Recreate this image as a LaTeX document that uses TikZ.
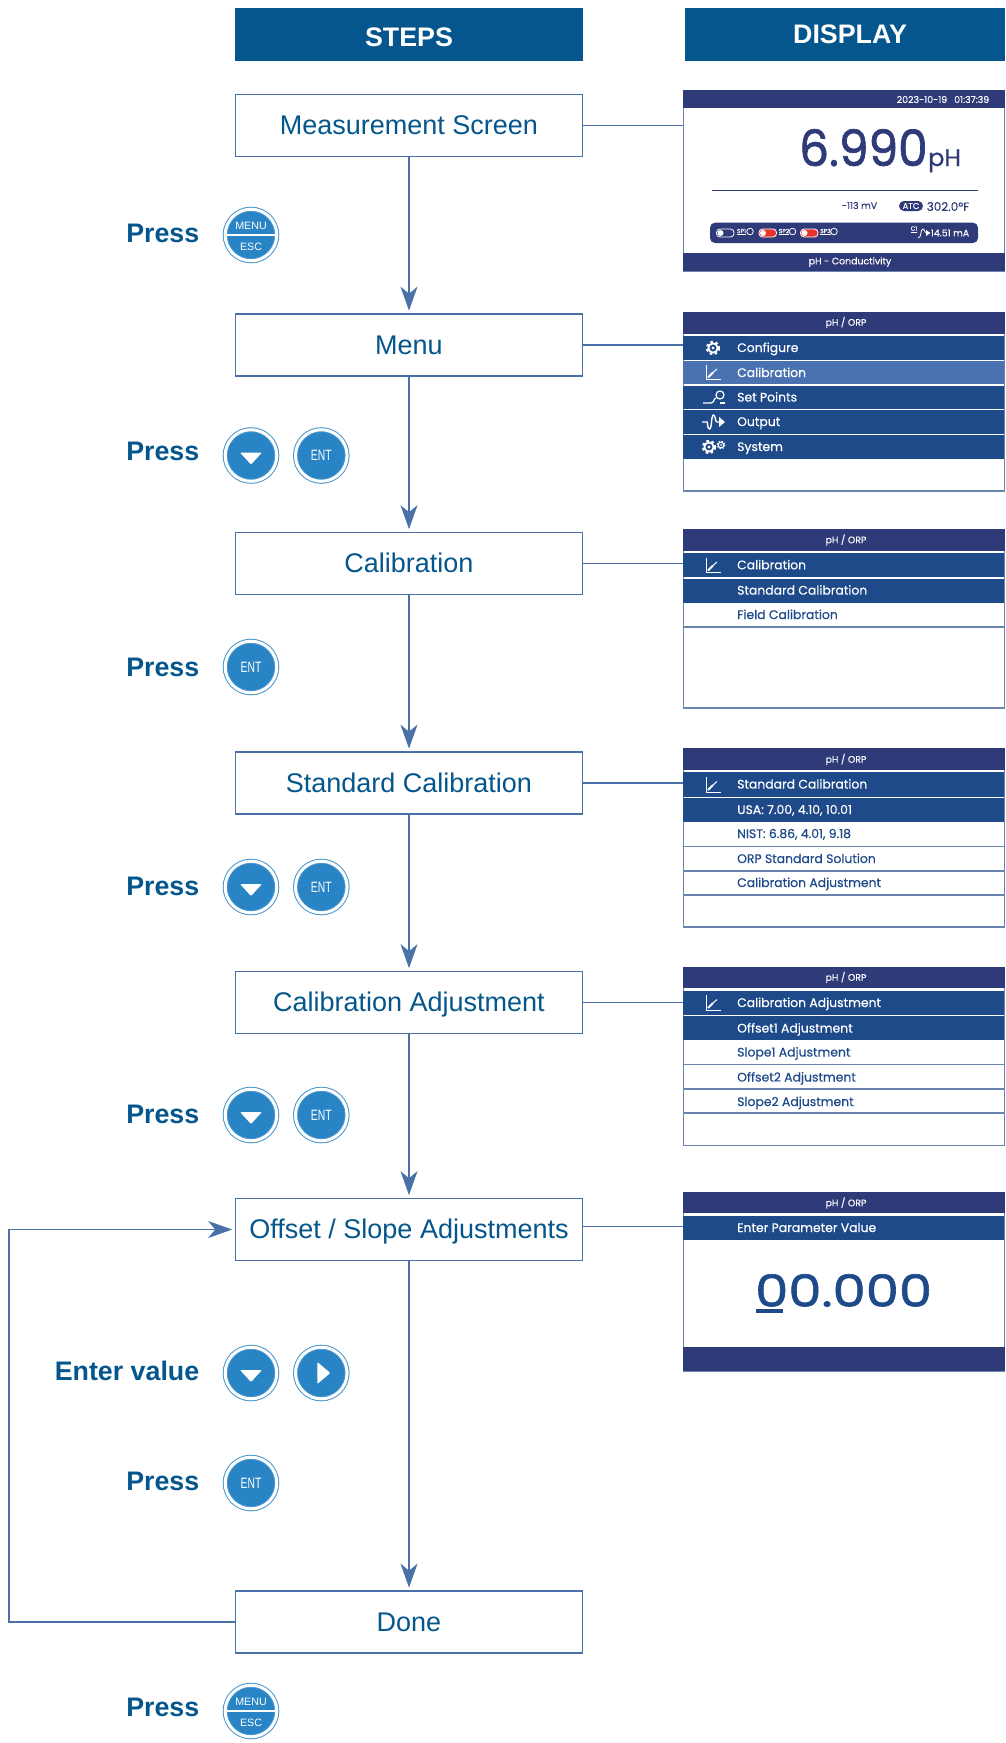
\documentclass[tikz,border=0pt]{standalone}
\usepackage{fontspec}
\setmainfont{Liberation Sans}
\newfontfamily\dispfont[FakeBold=0.5]{Poppins}
\newfontfamily\plainfont[FakeBold=0.2]{Poppins}
\newfontfamily\readfont[FakeStretch=0.94,FakeBold=1.4]{Poppins}
\newfontfamily\entryfont[FakeStretch=1.2,FakeBold=1.4]{Poppins}
\newfontfamily\entfont[FakeStretch=0.69]{Liberation Sans}
\usepackage{tikz}
\usetikzlibrary{arrows.meta, positioning}
\definecolor{stepblue}{HTML}{04568C}
\definecolor{linkblue}{HTML}{4A72A8}
\definecolor{framegrey}{HTML}{6A84B0}
\definecolor{titlenavy}{HTML}{2F3A78}
\definecolor{rownavy}{HTML}{1F4A8A}
\definecolor{rowpale}{HTML}{4A72B0}
\definecolor{btnblue}{HTML}{2884C4}
\definecolor{toggled}{HTML}{E8322C}
\tikzset{
    headbox/.style={fill=stepblue, text=white, font=\fontsize{26.8}{30}\selectfont\bfseries, minimum height=53pt, inner sep=0pt},
    stepbox/.style={draw=linkblue, line width=1.7pt, fill=white, text=stepblue, font=\fontsize{27}{31}\selectfont, minimum width=347pt, minimum height=62pt, inner sep=0pt, text height=18.5pt, text depth=0pt},
    link/.style={draw=linkblue, line width=1.5pt},
    flowarrow/.style={link, -{Stealth[length=24pt,width=17pt,inset=7pt]}, shorten >=2.5pt},
    presstext/.style={anchor=base east, text=stepblue, font=\fontsize{26.8}{30}\selectfont\bfseries, inner sep=0pt},
    btn/.style={circle, draw=btnblue!85!white, line width=1pt, double=white, double distance=3pt, fill=btnblue, minimum size=51.6pt, inner sep=0pt, text=white, font=\entfont\fontsize{15}{15}\selectfont},
    btnsmall/.style={text=white, font=\fontsize{10.7}{12}\selectfont, inner sep=0pt},
    dispframe/.style={draw=framegrey, line width=1.5pt, fill=white, anchor=north west, minimum width=321pt, inner sep=0pt},
    bartext/.style={text=white, font=\plainfont\fontsize{9.4}{11}\selectfont, inner sep=0pt},
    rowwhite/.style={anchor=west, text=white, font=\dispfont\fontsize{12.4}{14}\selectfont, inner sep=0pt, text height=10pt, text depth=2pt},
    rowblue/.style={anchor=west, text=rownavy, font=\dispfont\fontsize{12.4}{14}\selectfont, inner sep=0pt, text height=10pt, text depth=2pt},
    readout/.style={text=titlenavy, font=\plainfont\fontsize{9.4}{11}\selectfont, inner sep=0pt},
    gearicon/.pic={
        \draw[white, line width=1.8pt] (0,0) circle (4.6);
        \draw[white, line width=2.2pt, dash pattern=on 2.5pt off 2.6pt] (0,0) circle (6);
        \fill[white] (0,0) circle (1.7);
    },
    smallgearicon/.pic={
        \draw[white, line width=1pt] (0,0) circle (2.8);
        \draw[white, line width=1.2pt, dash pattern=on 1.4pt off 1.6pt] (0,0) circle (3.8);
        \fill[white] (0,0) circle (1);
    },
    charticon/.pic={
        \draw[white, line width=1pt] (-7,-8) -- (-7,7) -- (8,7);
        \draw[white, line width=2pt] (-5,5) -- (0,0);
        \draw[white, line width=1pt] (0,0) -- (4,-3.5);
    },
    pointicon/.pic={
        \draw[white, line width=1.2pt] (-11,6) -- (-3,6) .. controls (0,6) and (0,1) .. (2,1);
        \draw[white, line width=1.2pt] (6,-2) circle (4);
        \draw[white, line width=1.2pt] (6,6) -- (11,6);
    },
    outputicon/.pic={
        \draw[white, line width=1.4pt] (-12,0) -- (-7,0) .. controls (-6,0) and (-7,7) .. (-4.5,7) .. controls (-2,7) and (-3,-7) .. (-0.5,-7) .. controls (1.5,-7) and (1,0) .. (3,0) -- (6,0);
        \fill[white] (5,-5) -- (11,0) -- (5,5) -- cycle;
    },
    downicon/.pic={\fill[white, rounded corners=1pt] (-11,-3) -- (11,-3) -- (0,9) -- cycle;},
    righticon/.pic={\fill[white, rounded corners=1pt] (-4,-11) -- (-4,11) -- (9,0) -- cycle;}
}
\begin{document}
\begin{tikzpicture}[x=1pt, y=-1pt]
    \useasboundingbox (0,0) rectangle (1005,1743);
    % Headers
    \node[headbox, minimum width=348pt, text height=23.2pt, text depth=0pt] (steps) at (409,34.5) {STEPS};
    \node[headbox, minimum width=320pt] (display) at (845,34.5) {\hspace*{10pt}DISPLAY};
    % Steps
    \node[stepbox] (measure) at (409,125.5) {Measurement Screen};
    \node[stepbox] (menu) at (409,345) {Menu};
    \node[stepbox] (calib) at (409,563.5) {Calibration};
    \node[stepbox] (standard) at (409,783) {Standard Calibration};
    \node[stepbox] (adjust) at (409,1002.5) {Calibration Adjustment};
    \node[stepbox] (offset) at (409,1229.5) {Offset / Slope Adjustments};
    \node[stepbox] (done) at (409,1622) {Done};
    % Arrows
    \draw[flowarrow] (measure) -- (menu);
    \draw[flowarrow] (menu) -- (calib);
    \draw[flowarrow] (calib) -- (standard);
    \draw[flowarrow] (standard) -- (adjust);
    \draw[flowarrow] (adjust) -- (offset);
    \draw[flowarrow] (offset) -- (done);
    \coordinate (backcorner) at (9,1622);
    \draw[flowarrow] (done) -- (backcorner) |- (offset);
    % Press labels
    \node[presstext] (pressa) at (199.5,242) {Press};
    \node[presstext] (pressb) at (199.5,460.5) {Press};
    \node[presstext] (pressc) at (199.5,676) {Press};
    \node[presstext] (pressd) at (199.5,895) {Press};
    \node[presstext] (presse) at (199.5,1123) {Press};
    \node[presstext] (enterval) at (199.5,1380) {Enter value};
    \node[presstext] (pressf) at (199.5,1490.5) {Press};
    \node[presstext] (pressg) at (199.5,1716) {Press};
    % Buttons
    \node[btn] (btnmenu) at (251,235) {};
    \draw[white, line width=2pt] (227,235) -- (275,235);
    \node[btnsmall] (menutext) at (251,226) {MENU};
    \node[btnsmall] (esctext) at (251,246.7) {ESC};
    \node[btn] (btndowna) at (251,455.5) {};
    \pic at (251,455.5) {downicon};
    \node[btn] (btnenta) at (321.3,455.5) {ENT};
    \node[btn] (btnentb) at (251,667) {ENT};
    \node[btn] (btndownb) at (251,887) {};
    \pic at (251,887) {downicon};
    \node[btn] (btnentc) at (321.3,887) {ENT};
    \node[btn] (btndownc) at (251,1115) {};
    \pic at (251,1115) {downicon};
    \node[btn] (btnentd) at (321.3,1115) {ENT};
    \node[btn] (btndownd) at (251,1373) {};
    \pic at (251,1373) {downicon};
    \node[btn] (btnright) at (321.3,1373) {};
    \pic at (321.3,1373) {righticon};
    \node[btn] (btnente) at (251,1483) {ENT};
    \node[btn] (btnmenub) at (251,1711) {};
    \draw[white, line width=2pt] (227,1711) -- (275,1711);
    \node[btnsmall] (menutextb) at (251,1702) {MENU};
    \node[btnsmall] (esctextb) at (251,1722.7) {ESC};
    % Display 1: measurement
    \node[dispframe, minimum height=180pt] (dispa) at (682.5,90.5) {};
    \draw[link] (measure.east) -- (measure.east -| dispa.west);
    \fill[titlenavy] (682.5,90) rectangle (1004.5,108);
    \fill[titlenavy] (682.5,252.5) rectangle (1004.5,271);
    \node[bartext] (clock) at (943,99.5) {2023-10-19\hspace{7pt}01:37:39};
    \node[bartext] (footer) at (850,262) {pH - Conductivity};
    \node[anchor=base west, inner sep=0pt, text=titlenavy, font=\readfont\fontsize{50}{54}\selectfont] (reading) at (799,166) {6.990};
    \node[anchor=base west, inner sep=0pt, text=titlenavy, font=\dispfont\fontsize{24}{28}\selectfont] (unit) at (928,166) {pH};
    \draw[titlenavy, line width=1.3pt] (712,190.5) -- (978,190.5);
    \node[readout] (millivolt) at (859.5,205.5) {-113 mV};
    \fill[titlenavy, rounded corners=5pt] (899,201) rectangle (923,211);
    \node[bartext, font=\plainfont\fontsize{8.4}{10}\selectfont] (atc) at (911,206) {ATC};
    \node[readout, font=\plainfont\fontsize{12}{14}\selectfont] (temper) at (948,206.5) {302.0°F};
    \fill[titlenavy, rounded corners=5pt] (710,222.7) rectangle (978,243);
    \draw[white, line width=.8pt, rounded corners=3.5pt] (716.5,229) rectangle (734,237);
    \fill[white] (720.5,233) circle (3);
    \node[bartext, font=\plainfont\fontsize{6}{7}\selectfont] (spa) at (741.5,232) {\underline{SP1}};
    \draw[white, line width=.8pt] (750,231.5) circle (3.3);
    \draw[white, fill=toggled, line width=.8pt, rounded corners=3.5pt] (759,229) rectangle (776.5,237);
    \fill[white] (763,233) circle (3);
    \node[bartext, font=\plainfont\fontsize{6}{7}\selectfont] (spb) at (784,232) {\underline{SP2}};
    \draw[white, line width=.8pt] (792.5,231.5) circle (3.3);
    \draw[white, fill=toggled, line width=.8pt, rounded corners=3.5pt] (800.5,229) rectangle (818,237);
    \fill[white] (804.5,233) circle (3);
    \node[bartext, font=\plainfont\fontsize{6}{7}\selectfont] (spc) at (825.5,232) {\underline{SP3}};
    \draw[white, line width=.8pt] (834,231.5) circle (3.3);
    \node[bartext, font=\plainfont\fontsize{6}{7}\selectfont] (chan) at (914,229.5) {\underline{C1}};
    \draw[white, line width=.8pt] (918,238) .. controls (922,238) and (920,229) .. (923,229) .. controls (925,229) and (924,233) .. (927,233);
    \fill[white] (926,230) -- (930.5,233) -- (926,236) -- cycle;
    \node[bartext] (current) at (950,233) {14.51 mA};
    % Display 2: menu
    \node[dispframe, minimum height=178pt] (dispb) at (682.5,312) {};
    \draw[link] (menu.east) -- (menu.east -| dispb.west);
    \fill[titlenavy] (682.5,312) rectangle (1004.5,333.5);
    \node[bartext] (titleb) at (846,322.5) {pH / ORP};
    \fill[rownavy] (682.5,336) rectangle (1004,360);
    \fill[rowpale] (682.5,361) rectangle (1004,384);
    \fill[rownavy] (682.5,385.5) rectangle (1004,409);
    \fill[rownavy] (682.5,410) rectangle (1004,434);
    \fill[rownavy] (682.5,435) rectangle (1004,459);
    \node[rowwhite] (configure) at (737,348) {Configure};
    \node[rowwhite] (calrow) at (737,373) {Calibration};
    \node[rowwhite] (setpoints) at (737,397.5) {Set Points};
    \node[rowwhite] (output) at (737,422) {Output};
    \node[rowwhite] (system) at (737,447) {System};
    \pic at (713,348) {gearicon};
    \pic at (713,372.5) {charticon};
    \pic at (714,397) {pointicon};
    \pic at (714,422) {outputicon};
    \pic at (709,447) {gearicon};
    \pic at (721,445) {smallgearicon};
    % Display 3: calibration
    \node[dispframe, minimum height=178pt] (dispc) at (682.5,529) {};
    \draw[link] (calib.east) -- (calib.east -| dispc.west);
    \fill[titlenavy] (682.5,529) rectangle (1004.5,550.5);
    \node[bartext] (titlec) at (846,540) {pH / ORP};
    \fill[rownavy] (682.5,553.3) rectangle (1004,577.3);
    \fill[rownavy] (682.5,578.8) rectangle (1004,602.5);
    \draw[framegrey, line width=1.2pt] (682.5,627) -- (1004,627);
    \node[rowwhite] (calrowc) at (737,565.3) {Calibration};
    \node[rowwhite] (stdrowc) at (737,590.6) {Standard Calibration};
    \node[rowblue] (fieldrow) at (737,615) {Field Calibration};
    \pic at (713,565.5) {charticon};
    % Display 4: standard calibration
    \node[dispframe, minimum height=178pt] (dispd) at (682.5,748) {};
    \draw[link] (standard.east) -- (standard.east -| dispd.west);
    \fill[titlenavy] (682.5,748) rectangle (1004.5,769.5);
    \node[bartext] (titled) at (846,759.5) {pH / ORP};
    \fill[rownavy] (682.5,772.3) rectangle (1004,796.7);
    \fill[rownavy] (682.5,798) rectangle (1004,822);
    \draw[framegrey, line width=1.2pt] (682.5,846.5) -- (1004,846.5);
    \draw[framegrey, line width=1.2pt] (682.5,871) -- (1004,871);
    \draw[framegrey, line width=1.2pt] (682.5,895) -- (1004,895);
    \node[rowwhite] (stdrowd) at (737,784.5) {Standard Calibration};
    \node[rowwhite] (usarow) at (737,810) {USA: 7.00, 4.10, 10.01};
    \node[rowblue] (nistrow) at (737,834) {NIST: 6.86, 4.01, 9.18};
    \node[rowblue] (orprow) at (737,859) {ORP Standard Solution};
    \node[rowblue] (adjrow) at (737,883) {Calibration Adjustment};
    \pic at (713,785) {charticon};
    % Display 5: calibration adjustment
    \node[dispframe, minimum height=178pt] (dispe) at (682.5,966.5) {};
    \draw[link] (adjust.east) -- (adjust.east -| dispe.west);
    \fill[titlenavy] (682.5,966.5) rectangle (1004.5,987.5);
    \node[bartext] (titlee) at (846,977.5) {pH / ORP};
    \fill[rownavy] (682.5,990.5) rectangle (1004,1014.7);
    \fill[rownavy] (682.5,1016) rectangle (1004,1040);
    \draw[framegrey, line width=1.2pt] (682.5,1064.5) -- (1004,1064.5);
    \draw[framegrey, line width=1.2pt] (682.5,1089) -- (1004,1089);
    \draw[framegrey, line width=1.2pt] (682.5,1113) -- (1004,1113);
    \node[rowwhite] (adjrowe) at (737,1003) {Calibration Adjustment};
    \node[rowwhite] (offarow) at (737,1028.5) {Offset1 Adjustment};
    \node[rowblue] (slopearow) at (737,1052.5) {Slope1 Adjustment};
    \node[rowblue] (offbrow) at (737,1077.5) {Offset2 Adjustment};
    \node[rowblue] (slopebrow) at (737,1102) {Slope2 Adjustment};
    \pic at (713,1003) {charticon};
    % Display 6: value entry
    \node[dispframe, minimum height=178pt] (dispf) at (682.5,1192.5) {};
    \draw[link] ([yshift=3pt]offset.east) -- ([yshift=3pt]offset.east -| dispf.west);
    \fill[titlenavy] (682.5,1192) rectangle (1004.5,1213);
    \node[bartext] (titlef) at (846,1203) {pH / ORP};
    \fill[rownavy] (682.5,1216) rectangle (1004,1240);
    \node[rowwhite] (enterrow) at (737,1228) {Enter Parameter Value};
    \node[anchor=base west, inner sep=0pt, text=rownavy, font=\entryfont\fontsize{44}{48}\selectfont] (entry) at (755,1306.5) {00.000};
    \fill[rownavy] (755.5,1309.3) rectangle (783,1313);
    \fill[titlenavy] (682.5,1347) rectangle (1004.5,1371);
\end{tikzpicture}
\end{document}
